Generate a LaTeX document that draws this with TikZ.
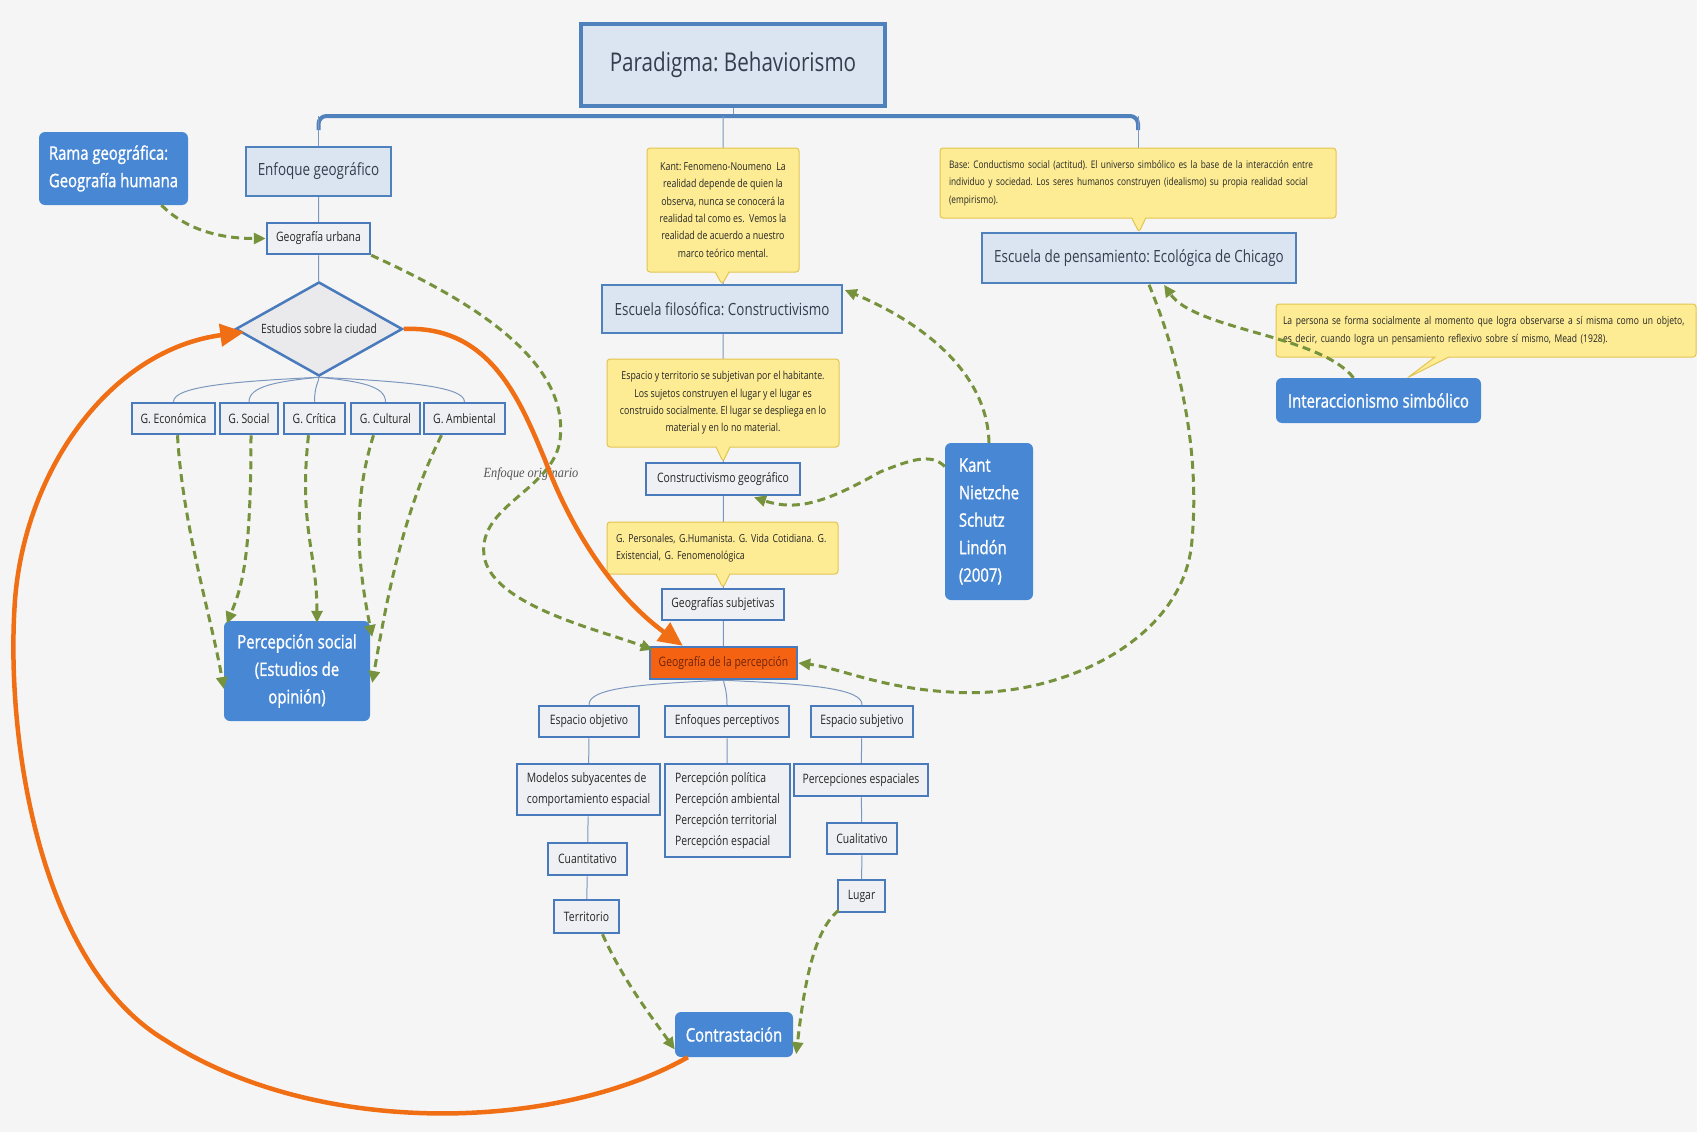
\documentclass[tikz,border=0pt]{standalone}
\usepackage{fontspec}
\setmainfont{Open Sans}[FakeStretch=0.8]
\newfontfamily\boxfont{Open Sans}[FakeStretch=0.8, FakeBold=1.2]
\newfontfamily\labelfont{Liberation Serif}[FakeStretch=0.88]
\usepackage{tikz}
\usetikzlibrary{positioning,calc,shapes.geometric,shapes.callouts,arrows.meta,backgrounds}
\frenchspacing
\definecolor{MapBlue}{RGB}{79,129,189}
\definecolor{MapEdge}{RGB}{72,122,188}
\definecolor{MapPale}{RGB}{219,229,241}
\definecolor{MapGray}{RGB}{238,240,243}
\definecolor{MapDiam}{RGB}{234,234,236}
\definecolor{MapNode}{RGB}{72,135,212}
\definecolor{MapText}{RGB}{52,62,78}
\definecolor{MapNote}{RGB}{253,236,148}
\definecolor{MapNoteEdge}{RGB}{228,196,80}
\definecolor{MapGreen}{RGB}{118,146,60}
\definecolor{MapOrange}{RGB}{240,110,20}
\definecolor{MapPercFill}{RGB}{245,98,18}
\definecolor{MapPercText}{RGB}{112,36,10}
\definecolor{MapLine}{RGB}{125,152,190}
\definecolor{MapPaper}{RGB}{245,245,245}
\definecolor{MapCaption}{RGB}{85,85,85}
\pgfdeclarelayer{paper}
\pgfsetlayers{paper,background,main}
\tikzset{
    topbox/.style={rectangle, draw=MapBlue, line width=4pt, fill=MapPale, text=MapText, font=\fontsize{25.8}{31}\selectfont},
    mainbox/.style={rectangle, draw=MapBlue, line width=1.5pt, fill=MapPale, text=MapText, minimum height=49pt, font=\fontsize{16.8}{20}\selectfont},
    smallbox/.style={rectangle, draw=MapEdge, line width=2.5pt, fill=MapGray, text=black!85, minimum height=31pt, inner sep=4pt, font=\fontsize{13}{21}\selectfont},
    bluebox/.style={rectangle, rounded corners=6pt, fill=MapNode, text=white, font=\boxfont\fontsize{18.6}{27.5}\selectfont},
    citybox/.style={diamond, draw=MapEdge, line width=2.5pt, fill=MapDiam, text=black!85, minimum width=167pt, minimum height=94pt, inner sep=0pt, shape aspect=1.8, font=\fontsize{12.8}{15}\selectfont},
    notebox/.style={rectangle callout, draw=MapNoteEdge, fill=MapNote, line width=1pt, rounded corners=3pt, callout pointer width=14pt, text=black!85, font=\fontsize{11}{17.4}\selectfont},
    treeline/.style={draw=MapLine, line width=1pt},
    barline/.style={draw=MapBlue, line width=4pt, rounded corners=8pt},
    greenlink/.style={draw=MapGreen, line width=3pt, dash pattern=on 8pt off 5pt, -{Triangle[length=12pt,width=11pt]}},
    orangelink/.style={draw=MapOrange, line width=4.5pt, -{Triangle[length=24pt,width=22pt]}}
}
\begin{document}
\begin{tikzpicture}[x=1pt, y=-1pt]

    % --- fondo ---
    \begin{pgfonlayer}{paper}
        \fill[MapPaper] (0,0) rectangle (1697,1132);
    \end{pgfonlayer}
    \useasboundingbox (0,0) rectangle (1697,1132);

    % --- paradigma ---
    \node[topbox, minimum width=304pt, minimum height=82pt] (parad) at (733,65) {Paradigma: Behaviorismo};
    \coordinate (bar) at (733,116);

    % --- columna izquierda ---
    \node[mainbox, minimum width=145pt] (enfgeo) at (318.5,171.5) {Enfoque geográfico};
    \node[bluebox, minimum width=149pt, minimum height=73pt, align=left] (rama) at (113.5,168.5) {Rama geográfica:\\Geografía humana};
    \node[smallbox, minimum width=103pt] (geourb) at (318.5,238.5) {Geografía urbana};
    \node[citybox] (ciudad) at (319,329) {Estudios sobre la ciudad};
    \node[smallbox, minimum width=83pt] (geco) at (173.5,418.5) {G. Económica};
    \node[smallbox, minimum width=58pt] (geso) at (249,418.5) {G. Social};
    \node[smallbox, minimum width=61pt] (gecr) at (314.5,418.5) {G. Crítica};
    \node[smallbox, minimum width=69pt] (gecu) at (385.5,418.5) {G. Cultural};
    \node[smallbox, minimum width=81pt] (geam) at (464.5,418.5) {G. Ambiental};
    \node[bluebox, minimum width=146pt, minimum height=100pt, align=center] (psoc) at (297,671) {Percepción social\\(Estudios de\\opinión)};

    % --- columna central ---
    \node[mainbox, minimum width=240pt, minimum height=48pt] (escfil) at (722,309) {Escuela filosófica: Constructivismo};
    \node[smallbox, minimum width=154pt, minimum height=32pt] (cgeo) at (723,479) {Constructivismo geográfico};
    \node[smallbox, minimum width=122pt] (gsubj) at (723,604.5) {Geografías subjetivas};
    \node[smallbox, minimum width=147pt, minimum height=32pt, fill=MapPercFill, text=MapPercText] (gper) at (723.5,663) {Geografía de la percepción};
    \node[smallbox, minimum width=100pt] (espobj) at (589,721.5) {Espacio objetivo};
    \node[smallbox, minimum width=124pt] (enfper) at (727,721.5) {Enfoques perceptivos};
    \node[smallbox, minimum width=102pt] (espsub) at (862,721.5) {Espacio subjetivo};
    \node[smallbox, minimum width=143pt, minimum height=51pt, align=left] (modelos) at (588.5,789.5) {Modelos subyacentes de\\comportamiento espacial};
    \node[smallbox, minimum width=125pt, minimum height=93pt, align=left] (perlist) at (727.5,810.5) {Percepción política\\Percepción ambiental\\Percepción territorial\\Percepción espacial};
    \node[smallbox, minimum width=134pt, minimum height=32pt] (perespa) at (861,780) {Percepciones espaciales};
    \node[smallbox, minimum width=70pt] (cuali) at (862,838.5) {Cualitativo};
    \node[smallbox, minimum width=47pt, minimum height=32pt] (lugar) at (861.5,896) {Lugar};
    \node[smallbox, minimum width=79pt, minimum height=32pt] (cuanti) at (587.5,859) {Cuantitativo};
    \node[smallbox, minimum width=65pt, minimum height=33pt] (terr) at (586.5,916.5) {Territorio};
    \node[bluebox, minimum width=118pt, minimum height=45pt] (contra) at (734,1034.5) {Contrastación};
    \node[bluebox, minimum width=88pt, minimum height=157pt, align=left] (kant) at (989,521.5) {Kant\\Nietzche\\Schutz\\Lindón\\(2007)};

    % --- columna derecha ---
    \node[mainbox, minimum width=314pt, minimum height=50pt] (escpen) at (1139,258) {Escuela de pensamiento: Ecológica de Chicago};
    \node[bluebox, minimum width=205pt, minimum height=45pt] (intsym) at (1378.5,400.5) {Interaccionismo simbólico};

    % --- notas ---
    \node[notebox, minimum width=152pt, minimum height=124pt, align=center, callout absolute pointer={(escfil.north)}] (kantnote) at (723,210)
        {Kant: Fenomeno-Noumeno\ \ La\\realidad depende de quien la\\observa, nunca se conocerá la\\realidad tal como es.\ \ Vemos la\\realidad de acuerdo a nuestro\\marco teórico mental.};
    \node[notebox, minimum width=232pt, minimum height=88pt, align=center, callout absolute pointer={(cgeo.north)}] (espnote) at (723,403)
        {Espacio y territorio se subjetivan por el habitante.\\Los sujetos construyen el lugar y el lugar es\\construido socialmente. El lugar se despliega en lo\\material y en lo no material.};
    \node[notebox, text width=213pt, minimum height=52pt, align=left, inner sep=9pt, callout absolute pointer={(gsubj.north)}] (gpnote) at (722.5,548)
        {G. Personales, G.Humanista. G. Vida Cotidiana. G.\\Existencial, G. Fenomenológica};
    \node[notebox, text width=378pt, minimum height=70pt, align=left, inner sep=9pt, font=\fontsize{10.4}{17.4}\selectfont, callout absolute pointer={(escpen.north)}] (basenote) at (1138,183)
        {Base: Conductismo social (actitud). El universo simbólico es la base de la interacción entre\\individuo y sociedad. Los seres humanos construyen (idealismo) su propia realidad social\\(empirismo).};
    \node[notebox, text width=406pt, minimum height=53pt, align=left, inner sep=7pt, font=\fontsize{10.7}{17.4}\selectfont, callout absolute pointer={($(intsym.north)+(29,0)$)}] (meadnote) at (1486,330.5)
        {La persona se forma socialmente al momento que logra observarse a sí misma como un objeto,\\es decir, cuando logra un pensamiento reflexivo sobre sí mismo, Mead (1928).};

    \node[font=\labelfont\itshape\fontsize{14}{16}\selectfont, text=MapCaption] (origlbl) at (531,474) {Enfoque originario};

    % --- ramas del mapa ---
    \begin{pgfonlayer}{background}
        \draw[treeline] (parad.south) -- (bar);
        \draw[barline] ($(enfgeo.north |- bar)+(0,14)$) -- (enfgeo.north |- bar) -- (basenote.north |- bar) -- ++(0,14);
        \draw[treeline] (enfgeo.north |- bar) -- (enfgeo.north);
        \draw[treeline] (basenote.north |- bar) -- (basenote.north);
        \draw[treeline] (kantnote.north |- bar) -- (gper.center);
        \draw[treeline] (enfgeo) -- (geourb) -- (ciudad);
        \foreach \g/\c in {geco/-80, geso/-40, gecr/0, gecu/40, geam/80}
            \draw[treeline] (ciudad.south) .. controls +(\c,4) and +(0,-16) .. (\g.north);
        \foreach \g/\c in {espobj/-90, enfper/0, espsub/90}
            \draw[treeline] (gper.south) .. controls +(\c,4) and +(0,-16) .. (\g.north);
        \draw[treeline] (espobj) -- (modelos) -- (cuanti) -- (terr);
        \draw[treeline] (enfper) -- (perlist);
        \draw[treeline] (espsub) -- (perespa) -- (cuali) -- (lugar);
    \end{pgfonlayer}

    % --- enlaces punteados ---
    \draw[greenlink] ($(rama.south)+(48,0)$) .. controls +(25,25) and +(-45,0) .. (geourb.west);
    \draw[greenlink] ($(geco.south)+(4,0)$) .. controls +(5,90) and +(-12,-70) .. ($(psoc.west)+(0,18)$);
    \draw[greenlink] ($(geso.south)+(2,0)$) .. controls +(0,130) and +(14,-35) .. ($(psoc.north west)+(3,3)$);
    \draw[greenlink] ($(gecr.south)+(-6,0)$) .. controls +(-10,90) and +(0,-70) .. ($(psoc.north)+(20,2)$);
    \draw[greenlink] ($(gecu.south)+(-12,0)$) .. controls +(-22,70) and +(-14,-70) .. ($(psoc.east)+(2,-34)$);
    \draw[greenlink] ($(geam.south)+(-23,0)$) .. controls +(-40,80) and +(14,-80) .. ($(psoc.east)+(2,12)$);
    \draw[greenlink] (geourb.south east) .. controls (470,300) and (570,360) .. (560,440)
        .. controls (553,490) and (478,505) .. (484,555)
        .. controls (490,605) and (600,630) .. ($(gper.north west)+(4,4)$);
    \draw[greenlink] (kant.north) .. controls +(-2,-80) and +(60,25) .. ($(escfil.east)+(2,-19)$);
    \draw[greenlink] ($(kant.west)+(0,-55)$) .. controls +(-14,-14) and +(30,-12) .. (880,472)
        .. controls +(-50,28) and +(45,15) .. ($(cgeo.south)+(31,1)$);
    \draw[greenlink] ($(intsym.north)+(-25,0)$) .. controls (1320,335) and (1195,330) .. ($(escpen.south)+(25,1)$);
    \draw[greenlink] ($(escpen.south)+(10,1)$) .. controls (1180,360) and (1200,450) .. (1192,540)
        .. controls (1185,640) and (1060,700) .. (950,692)
        .. controls (880,688) and (840,668) .. (gper.east);
    \draw[greenlink] ($(terr.south)+(16,0)$) .. controls +(20,45) and +(-25,-35) .. ($(contra.west)+(0,15)$);
    \draw[greenlink] ($(lugar.south west)+(2,-3)$) .. controls +(-25,20) and +(8,-70) .. ($(contra.south east)+(3,-3)$);

    % --- enlaces naranja ---
    \draw[orangelink] (ciudad.east) .. controls (490,325) and (520,400) .. (545,460)
        .. controls (575,540) and (620,600) .. ($(gper.north west)+(34,0)$);
    \draw[orangelink] ($(contra.south west)+(13,0)$) .. controls (560,1130) and (320,1140) .. (165,1040)
        .. controls (40,965) and (5,740) .. (15,600)
        .. controls (25,470) and (110,350) .. ($(ciudad.west)+(10,3)$);

\end{tikzpicture}
\end{document}
